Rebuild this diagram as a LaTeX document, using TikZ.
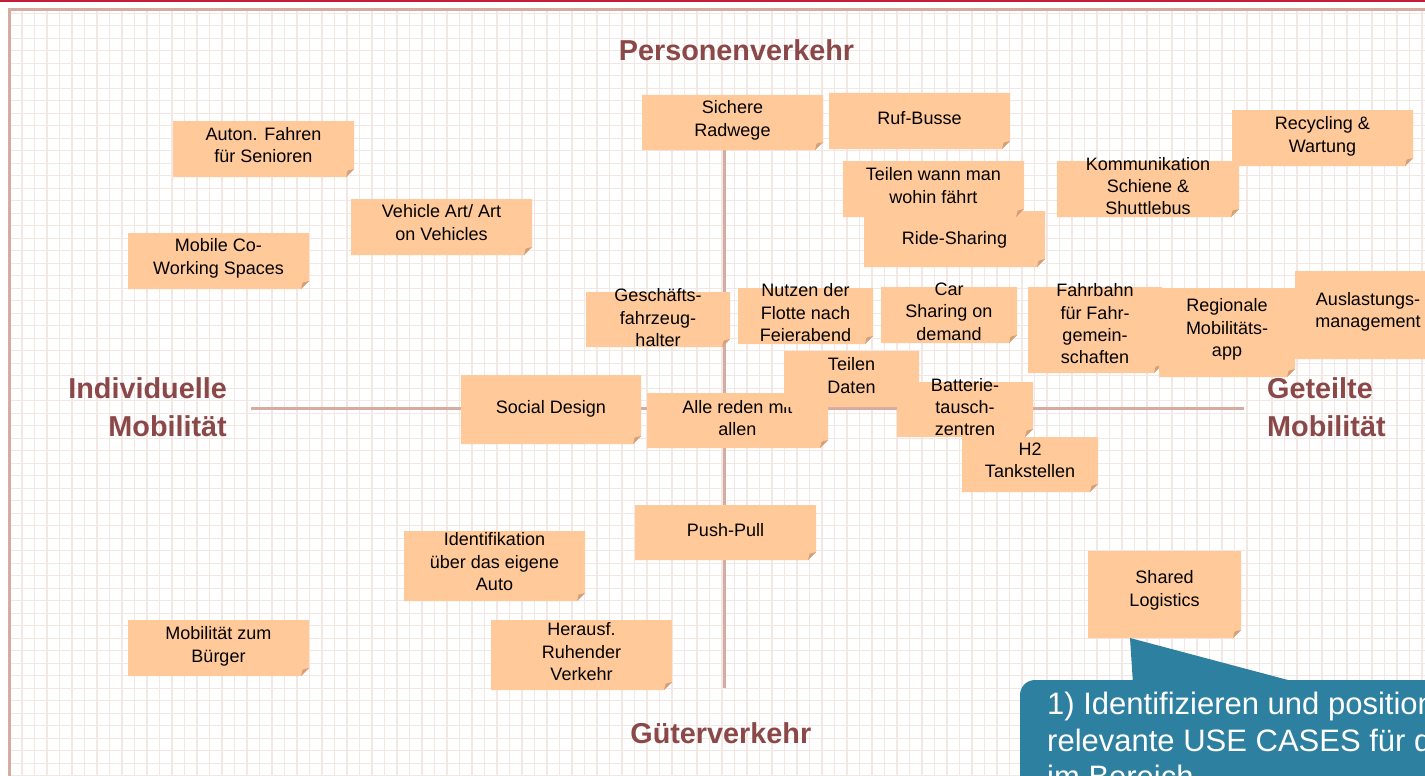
\documentclass[tikz,border=0pt]{standalone}
\usepackage{fontspec}
\setmainfont{Liberation Sans}

\definecolor{topred}{RGB}{196,30,58}
\definecolor{framecol}{RGB}{214,172,160}
\definecolor{gridcol}{RGB}{243,231,228}
\definecolor{notecol}{RGB}{255,201,153}
\definecolor{foldcol}{RGB}{212,160,120}
\definecolor{labelcol}{RGB}{139,72,72}
\definecolor{calloutcol}{RGB}{46,128,161}

\def\foldsz{8}

\tikzset{
  gridline/.style={draw=gridcol, line width=1.3pt},
  axisline/.style={draw=framecol, line width=3pt},
  notebody/.style={fill=notecol},
  notefold/.style={fill=foldcol},
  notetext/.style={anchor=north, inner sep=0pt, align=center, text=black,
    font=\fontsize{18}{22.3}\selectfont,
    execute at begin node={\rule{0pt}{14.5pt}}},
  axislabel/.style={inner sep=0pt, text=labelcol,
    font=\fontsize{28.8}{38.2}\selectfont\bfseries,
    execute at begin node={\rule{0pt}{23pt}}},
  callouttext/.style={anchor=north west, inner sep=0pt, align=left, text=white,
    font=\fontsize{31}{36.7}\selectfont,
    execute at begin node={\rule{0pt}{25pt}}},
}

% sticky note: name, x1, y1, x2, y2, centre of first text line, text
\newcommand\stickynote[7]{%
  \fill[notebody] (#2,#3) -- (#4,#3) -- (#4,#5-\foldsz) -- (#4-\foldsz,#5) -- (#2,#5) -- cycle;
  \fill[notefold] (#4,#5-\foldsz) -- (#4-\foldsz,#5) -- (#4-0.8*\foldsz,#5-0.8*\foldsz) -- cycle;
  \node[notetext] (#1) at ({(#2+#4)/2},#6-6.5) {#7};
}

\begin{document}
\begin{tikzpicture}[x=1pt,y=-1pt]
\useasboundingbox (0,0) rectangle (1425,776);
\clip (0,0) rectangle (1425,776);
\fill[white] (0,0) rectangle (1425,776);

% red rule along the top edge
\fill[topred] (0,0) rectangle (1425,2.2);

% squared paper
\foreach \i in {0,...,113} \draw[gridline] (22+12.5*\i,11) -- (22+12.5*\i,776);
\foreach \j in {0,...,61} \draw[gridline] (11,13.3+12.5*\j) -- (1425,13.3+12.5*\j);

% frame
\draw[draw=framecol, line width=3pt] (9.5,776) -- (9.5,9.5) -- (1425,9.5);

% axes
\coordinate (ytop) at (724,120);
\coordinate (ybot) at (724,688);
\coordinate (xleft) at (251,408);
\coordinate (xright) at (1244,408);
\draw[axisline] (ytop) -- (ybot);
\draw[axisline] (xleft) -- (xright);

% axis labels
\node[axislabel, anchor=north] (pv) at (736.5,60-23) {Personenverkehr};
\node[axislabel, anchor=north] (gv) at (720.8,743-23) {Güterverkehr};
\node[axislabel, anchor=north east, align=right] (im) at (227,400.5-23) {Individuelle\\Mobilität};
\node[axislabel, anchor=north west, align=left] (gm) at (1267,400.5-23) {Geteilte\\Mobilität};

% use cases
\stickynote{autonom}{173}{121}{354}{177}{133.7}{Auton. Fahren\\für Senioren}
\stickynote{vehart}{351}{199}{532}{255}{211}{Vehicle Art/ Art\\on Vehicles}
\stickynote{cowork}{128}{233}{309}{289}{245}{Mobile Co-\\Working Spaces}
\stickynote{radwege}{642}{95}{823}{150}{107}{Sichere\\Radwege}
\stickynote{rufbus}{829}{93}{1010}{149}{116}{Ruf-Busse}
\stickynote{ridesharing}{864}{211}{1045}{267}{236}{Ride-Sharing}
\stickynote{teilenwann}{843}{161}{1024}{217}{174}{Teilen wann man\\wohin fährt}
\stickynote{recycling}{1232}{110}{1413}{166}{123}{Recycling \&\\Wartung}
\stickynote{kommunikation}{1057}{161}{1239}{217}{163.3}{Kommunikation\\Schiene \&\\Shuttlebus}
\stickynote{geschaeft}{586}{292}{730}{347}{295}{Geschäfts-\\fahrzeug-\\halter}
\stickynote{flotte}{738}{288}{873}{344}{290}{Nutzen der\\Flotte nach\\Feierabend}
\stickynote{carsharing}{881}{287}{1017}{343}{289.3}{Car\\Sharing on\\demand}
\stickynote{social}{461}{375}{641}{444}{405}{Social Design}
\stickynote{allereden}{647}{393}{828}{448}{406.7}{Alle reden mit\\allen}
\stickynote{daten}{784}{351}{919}{407}{364}{Teilen\\Daten}
\stickynote{batterie}{897}{382}{1033}{437}{384.3}{Batterie-\\tausch-\\zentren}
\stickynote{h2}{962}{437}{1098}{492}{449}{H2\\Tankstellen}
\stickynote{fahrbahn}{1028}{287}{1162}{373}{290}{Fahrbahn\\für Fahr-\\gemein-\\schaften}
\stickynote{regional}{1159}{288}{1295}{377}{305}{Regionale\\Mobilitäts-\\app}
\stickynote{auslastung}{1295}{271}{1441}{359}{298.3}{Auslastungs-\\management}
\stickynote{pushpull}{635}{505}{816}{560}{528}{Push-Pull}
\stickynote{identifikation}{404}{531}{585}{601}{539}{Identifikation\\über das eigene\\Auto}
\stickynote{buerger}{128}{620}{309}{676}{633}{Mobilität zum\\Bürger}
\stickynote{ruhend}{491}{620}{672}{690}{629}{Herausf.\\Ruhender\\Verkehr}
\stickynote{logistics}{1088}{551}{1241}{638}{577}{Shared\\Logistics}

% speech bubble with the task
\coordinate (tip) at (1130,638);
\fill[calloutcol] (tip) -- (1133,684) -- (1303,684) -- cycle;
\fill[calloutcol, rounded corners=15pt] (1020,680) rectangle (1480,830);
\node[callouttext] (task) at (1047,716.7-25)
  {1) Identifizieren und positionieren\\relevante USE CASES für die\\im Bereich};
\end{tikzpicture}
\end{document}
